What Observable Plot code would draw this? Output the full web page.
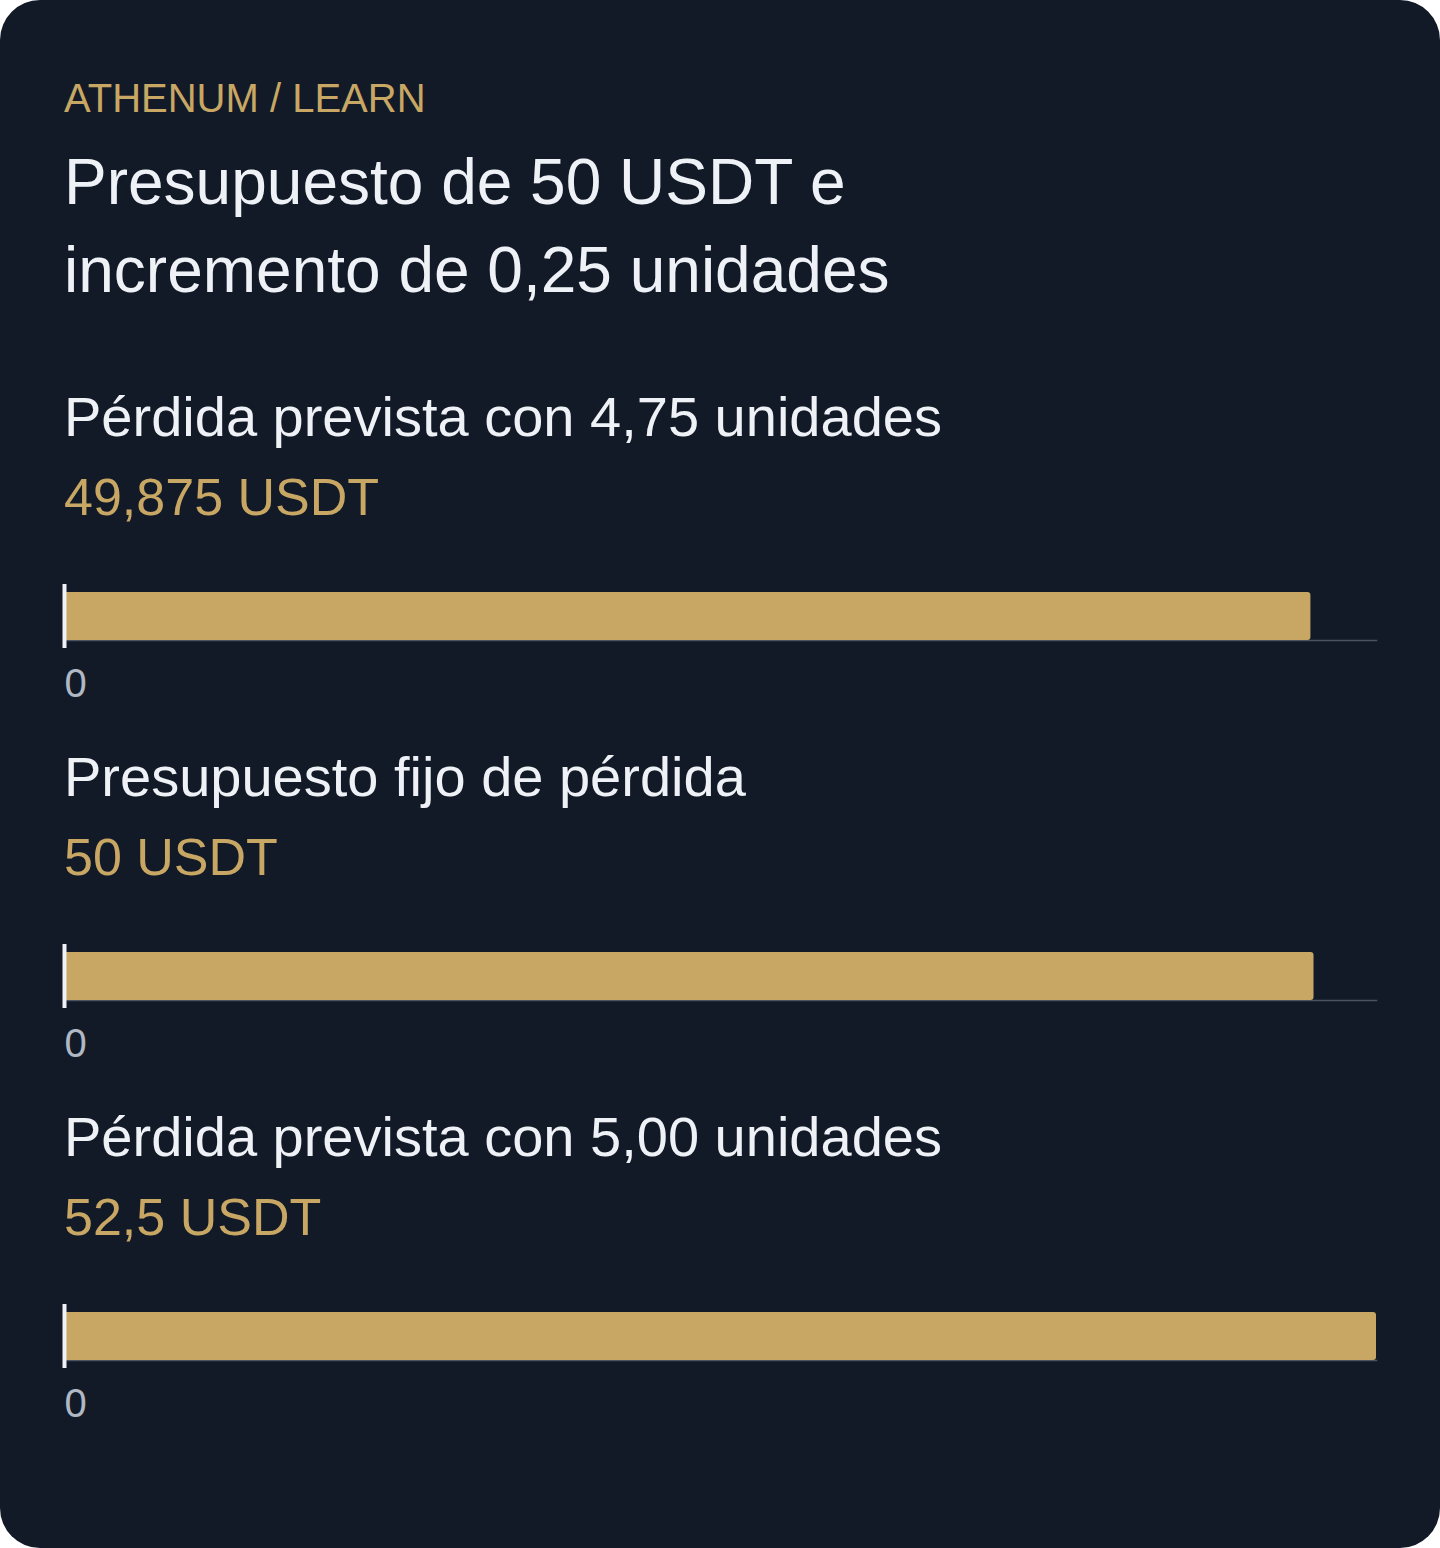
<!DOCTYPE html>
<html>
<head>
<meta charset="utf-8">
<script src="https://cdn.jsdelivr.net/npm/d3@7"></script>
<script src="https://cdn.jsdelivr.net/npm/@observablehq/plot@0.6"></script>
<style>
  html, body { margin: 0; padding: 0; background: #ffffff; }
  body { width: 1440px; height: 1548px; font-family: "Liberation Sans", Arial, sans-serif; }
  .card {
    width: 1440px; height: 1548px; box-sizing: border-box;
    background: #131a27; border-radius: 40px; overflow: hidden;
    padding-top: 73.5px;
  }
  .eyebrow { margin: 0 0 0 64px; font-size: 40px; line-height: 48px; color: #c8a764; }
  .title { margin: 16px 0 0 64px; font-size: 64px; line-height: 88px; color: #eef1f6; font-weight: 400; }
  .section-label { margin: 36px 0 0 64px; font-size: 56px; line-height: 64px; color: #eef1f6; }
  .section-label.first { margin-top: 71px; }
  .section-value { margin: 16px 0 0 64px; font-size: 52px; line-height: 64px; color: #c8a764; }
  .chart svg { display: block; }
</style>
</head>
<body>
<div class="card" id="card">
  <div class="eyebrow">ATHENUM / LEARN</div>
  <div class="title">Presupuesto de 50 USDT e<br>incremento de 0,25 unidades</div>
</div>
<script>
const categories = ["Pérdida prevista con 4,75 unidades", "Presupuesto fijo de pérdida", "Pérdida prevista con 5,00 unidades"];
const values = [49.875, 50, 52.5];
const valueLabels = ["49,875 USDT", "50 USDT", "52,5 USDT"];
const tickValues = [0];

const card = document.getElementById("card");
const xMax = d3.max(values);

categories.forEach((cat, i) => {
  const label = document.createElement("div");
  label.className = "section-label" + (i === 0 ? " first" : "");
  label.textContent = cat;
  card.appendChild(label);

  const val = document.createElement("div");
  val.className = "section-value";
  val.textContent = valueLabels[i];
  card.appendChild(val);

  const data = [{category: cat, value: values[i]}];
  const chart = Plot.plot({
    width: 1440,
    height: 180,
    marginLeft: 64,
    marginRight: 64,
    marginTop: 63,
    marginBottom: 69,
    style: {background: "transparent", color: "#b0b8c4", fontSize: "40px", fontFamily: "'Liberation Sans', Arial, sans-serif"},
    x: {domain: [0, xMax]},
    marks: [
      Plot.frame({anchor: "bottom", stroke: "#4a5363", strokeWidth: 1.5}),
      Plot.barX(data, {x: "value", fill: "#c8a764", rx: 3}),
      Plot.ruleX(tickValues, {stroke: "#eef1f6", strokeWidth: 4, insetTop: -8, insetBottom: -8}),
      Plot.axisX({ticks: tickValues, tickSize: 0, tickPadding: 28, textAnchor: "start", label: null, fontSize: 40, fill: "#b0b8c4"})
    ]
  });
  const wrap = document.createElement("div");
  wrap.className = "chart";
  wrap.appendChild(chart);
  card.appendChild(wrap);
});
</script>
</body>
</html>
